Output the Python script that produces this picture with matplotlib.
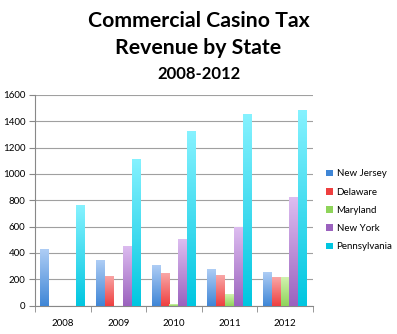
import numpy as np
import matplotlib.pyplot as plt
from matplotlib.colors import LinearSegmentedColormap
from matplotlib.patches import Patch

years = ['2008', '2009', '2010', '2011', '2012']
states = ['New Jersey', 'Delaware', 'Maryland', 'New York', 'Pennsylvania']
new_jersey = [428, 347, 307, 279, 256]
delaware = [0, 228, 246, 233, 218]
maryland = [0, 0, 13, 91, 218]
new_york = [0, 456, 504, 595, 823]
pennsylvania = [765, 1116, 1326, 1455, 1486]
series = [new_jersey, delaware, maryland, new_york, pennsylvania]

# (bottom colour, top colour) for the vertical gradient of each series
grads = [('#3F86D6', '#AECDF5'),
         ('#EE3F3F', '#F9A7A7'),
         ('#8FD45A', '#D2F2B0'),
         ('#9B62BE', '#DDBDF0'),
         ('#00C6E0', '#86F2FF')]

plt.rcParams['font.family'] = ['Lato', 'DejaVu Sans']

fig = plt.figure(figsize=(3.97, 3.34), dpi=100)
ax = fig.add_axes([0.088, 0.085, 0.70, 0.631])

x = np.arange(len(years))
w = 0.16
grad = np.linspace(0, 1, 256).reshape(-1, 1)
for i, vals in enumerate(series):
    cmap = LinearSegmentedColormap.from_list('g%d' % i, grads[i])
    bars = ax.bar(x - 2 * w + i * w, vals, w, color=grads[i][0], zorder=2)
    for b in bars:
        if b.get_height() <= 0:
            continue
        x0, y0 = b.get_x(), b.get_y()
        im = ax.imshow(grad, cmap=cmap, origin='lower', aspect='auto',
                       extent=[x0, x0 + b.get_width(), y0, y0 + b.get_height()],
                       zorder=3)
        im.set_clip_path(b)

ax.set_xlim(-0.5, len(years) - 0.5)
ax.set_ylim(0, 1600)
ax.set_yticks(range(0, 1601, 200))
ax.set_xticks(x)
ax.set_xticklabels(years)
ax.set_xticks(np.arange(-0.5, len(years), 1), minor=True)
ax.tick_params(axis='x', which='major', length=0, labelsize=7, pad=10)
ax.tick_params(axis='x', which='minor', length=4, color='#888888')
ax.tick_params(axis='y', length=4, color='#888888', labelsize=7, pad=3)
ax.grid(axis='y', color='#A0A0A0', linewidth=0.8, zorder=0)
for s in ['top', 'right']:
    ax.spines[s].set_visible(False)
for s in ['left', 'bottom']:
    ax.spines[s].set_color('#888888')

handles = [Patch(facecolor=grads[i][0], edgecolor='none') for i in range(len(states))]
fig.legend(handles, states, loc='center left', bbox_to_anchor=(0.80, 0.37),
           frameon=False, fontsize=7, handlelength=0.7, handleheight=0.7,
           handletextpad=0.35, labelspacing=0.95)

fig.text(0.5, 0.937, 'Commercial Casino Tax', ha='center', va='center',
         fontsize=15.3, fontweight='bold')
fig.text(0.5, 0.855, 'Revenue by State', ha='center', va='center',
         fontsize=15.3, fontweight='bold')
fig.text(0.5, 0.778, '2008-2012', ha='center', va='center',
         fontsize=12, fontweight='bold')

fig.savefig('out.png', dpi=100)
